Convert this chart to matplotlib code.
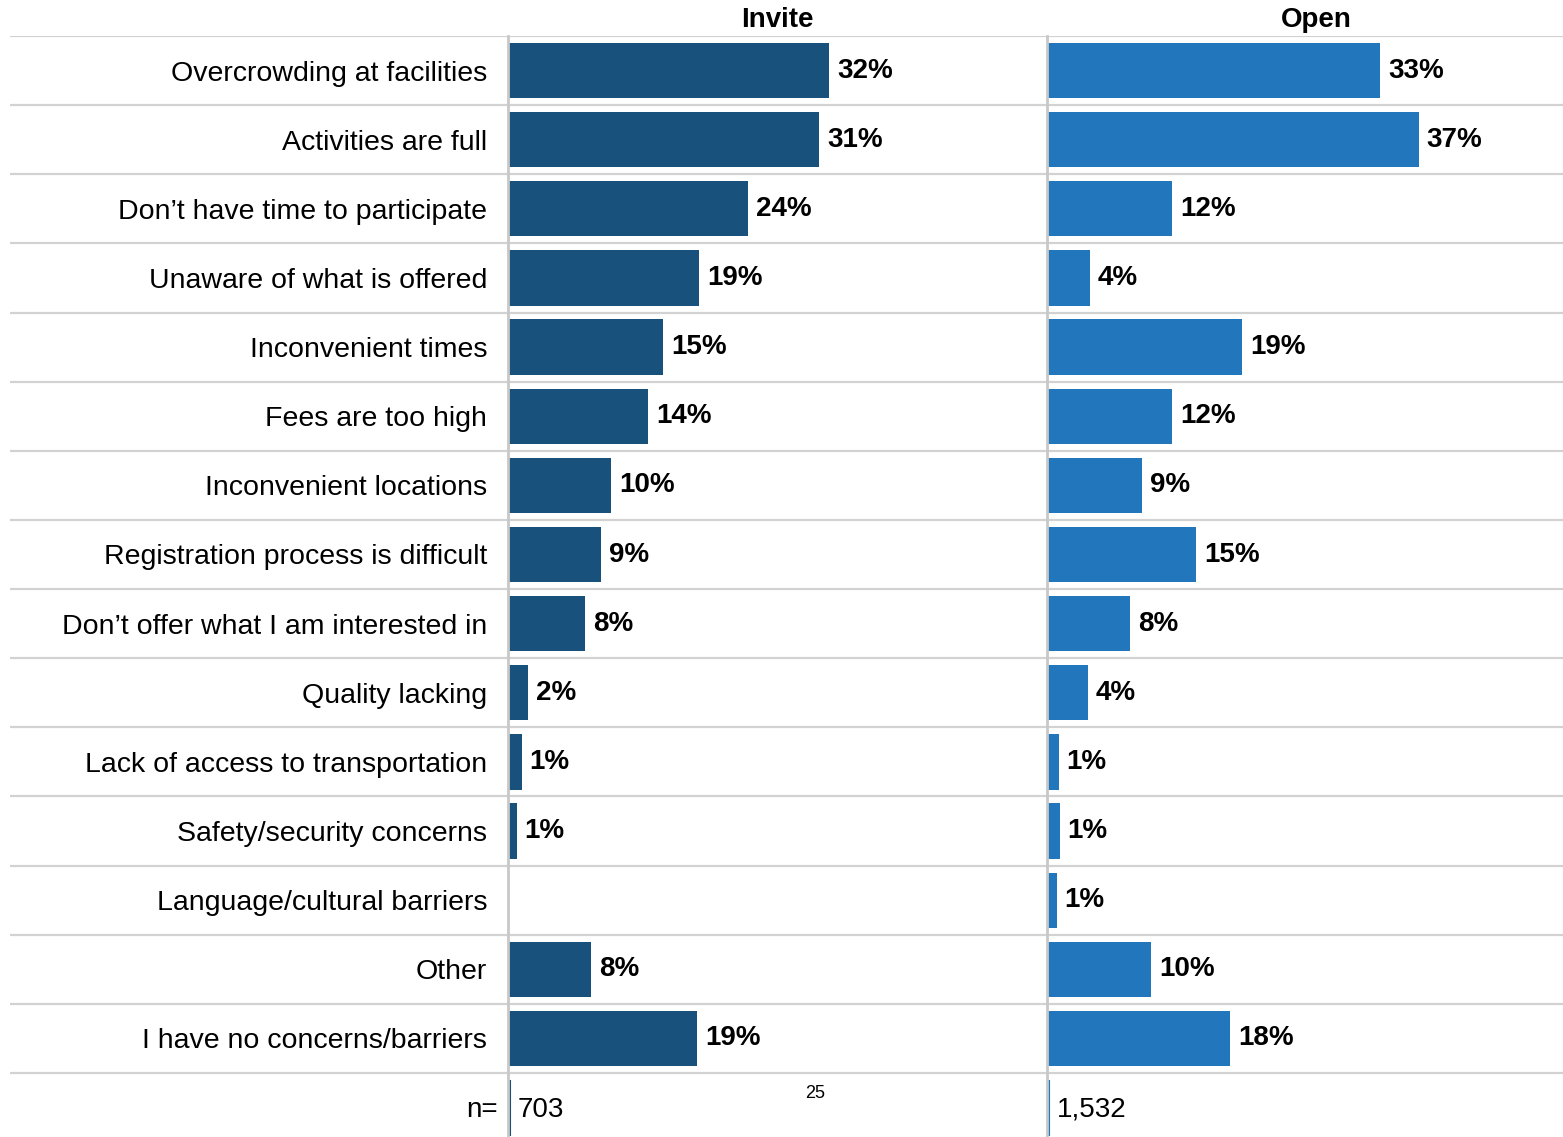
import matplotlib.pyplot as plt

plt.rcParams['font.family'] = ['Liberation Sans', 'DejaVu Sans']

categories = [
    'Overcrowding at facilities',
    'Activities are full',
    'Don\u2019t have time to participate',
    'Unaware of what is offered',
    'Inconvenient times',
    'Fees are too high',
    'Inconvenient locations',
    'Registration process is difficult',
    'Don\u2019t offer what I am interested in',
    'Quality lacking',
    'Lack of access to transportation',
    'Safety/security concerns',
    'Language/cultural barriers',
    'Other',
    'I have no concerns/barriers',
]
invite = [32.0, 31.0, 23.9, 19.0, 15.4, 13.9, 10.2, 9.2, 7.6, 1.9, 1.3, 0.8, 0, 8.2, 18.8]
open_ = [33.2, 37.0, 12.4, 4.2, 19.4, 12.4, 9.4, 14.8, 8.2, 4.0, 1.1, 1.2, 0.9, 10.3, 18.2]
n_invite = '703'
n_open = '1,532'

INVITE_COLOR = '#18527c'
OPEN_COLOR = '#2176bc'
GRID = '#d2d2d2'

W, H = 1563, 1137
fig = plt.figure(figsize=(W / 100, H / 100), dpi=100)

top, bottom = 36, 1137
row_h = (1073 - top) / len(categories)
ymax = len(categories) + (bottom - 1073) / row_h
px_per_pct = 10.03


def fx(px):
    return px / W


def fy(px):
    return 1 - px / H


# background axes carrying the row separators across the full width
bg = fig.add_axes([fx(10), fy(bottom), fx(W - 10), fy(top) - fy(bottom)])
bg.set_xlim(0, 1)
bg.set_ylim(ymax, 0)
bg.hlines(range(0, len(categories) + 1), 0, 1, color=GRID, lw=1.6)
bg.axis('off')

panels = [
    ('Invite', invite, n_invite, INVITE_COLOR, 508, 1046),
    ('Open', open_, n_open, OPEN_COLOR, 1047, W),
]
title_x = (1046 - 508) / px_per_pct / 2
rows = [i + 0.5 for i in range(len(categories))]
ny = len(categories) + 0.53

for k, (name, vals, n, color, x0, x1) in enumerate(panels):
    ax = fig.add_axes([fx(x0), fy(bottom), fx(x1 - x0), fy(top) - fy(bottom)])
    ax.patch.set_alpha(0)
    ax.set_xlim(0, (x1 - x0) / px_per_pct)
    ax.set_ylim(ymax, 0)
    ax.barh(rows, vals, height=0.8, color=color, left=0.05)
    for y, v in zip(rows, vals):
        if v > 0:
            ax.text(v + 0.85, y, f'{round(v)}%', va='center', ha='left',
                    fontsize=20, fontweight='bold', color='black')
    ax.text(title_x, -0.05, name, ha='center', va='bottom',
            fontsize=20, fontweight='bold')
    # thin marker beside the axis in the sample-size row
    ax.vlines(0.22, len(categories) + 0.1, ymax - 0.02, color=color, lw=1.5)
    ax.text(1.0, ny, n, ha='left', va='center', fontsize=20)
    for side in ['top', 'right', 'bottom']:
        ax.spines[side].set_visible(False)
    ax.spines['left'].set_color('#c8c8c8')
    ax.spines['left'].set_linewidth(2)
    ax.set_xticks([])
    if k == 0:
        ax.set_yticks(rows)
        ax.set_yticklabels(categories, fontsize=20.5)
        ax.tick_params(axis='y', length=0, pad=15)
        ax.text(-1.0, ny, 'n=', ha='right', va='center', fontsize=20)
    else:
        ax.set_yticks([])

fig.text(fx(815), fy(1093), '25', ha='center', va='center', fontsize=13)

fig.savefig('out.png', dpi=100)
